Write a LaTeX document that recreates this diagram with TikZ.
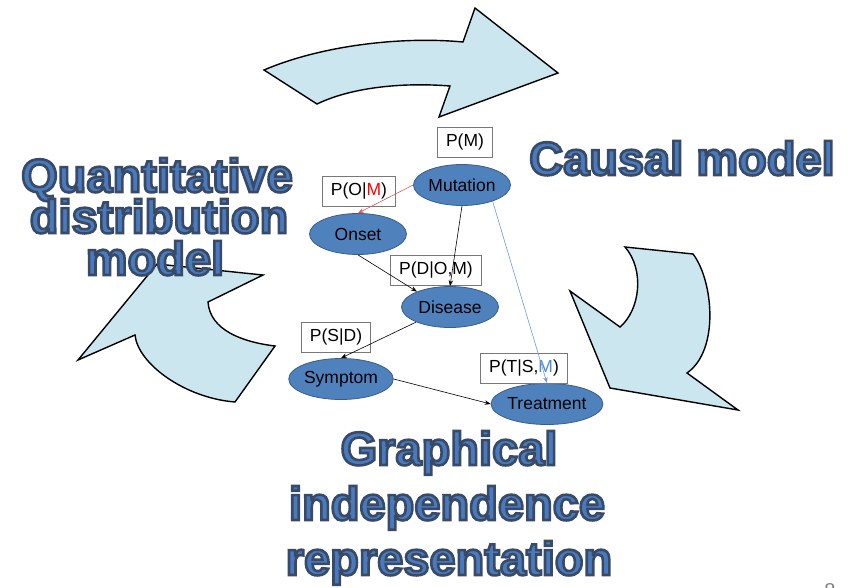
\documentclass[tikz,border=0pt]{standalone}
\usepackage{fontspec}
\setmainfont{Liberation Sans}
\usetikzlibrary{shapes.geometric,arrows.meta}
\definecolor{nodeblue}{RGB}{79,129,189}
\definecolor{nodeedge}{RGB}{56,93,138}
\definecolor{arrowfill}{RGB}{203,230,238}
\definecolor{titleblue}{RGB}{74,122,190}
\definecolor{redarrow}{RGB}{222,90,90}
\definecolor{bluearrow}{RGB}{110,155,212}
\definecolor{boxgray}{RGB}{120,120,120}
\definecolor{mblue}{RGB}{80,140,210}
\tikzset{
  bigarrow/.style={fill=arrowfill, draw=black, line width=1.4pt, line join=miter},
  var/.style={ellipse, fill=nodeblue, draw=nodeedge, line width=0.8pt, minimum width=97pt, minimum height=41pt, inner sep=0pt, font=\fontsize{17.5}{19}\selectfont, text=black},
  cpt/.style={draw=boxgray, line width=0.9pt, inner xsep=8.5pt, inner ysep=0pt, minimum height=30pt, font=\fontsize{17.5}{19}\selectfont, text=black},
  title/.style={anchor=base, text=titleblue, inner sep=0pt, font=\fontsize{47}{47}\selectfont\bfseries},
  edge/.style={line width=0.6pt, -{Stealth[length=6pt,width=4.5pt]}}
}
\newcommand{\ttl}[1]{\special{pdf:literal 2 Tr 2.6 w 0.22 0.29 0.40 RG}#1\special{pdf:literal 0 Tr}}
\begin{document}
\begin{tikzpicture}[x=1pt,y=-1pt]
\useasboundingbox (0,0) rectangle (852,587);
\fill[white] (0,0) rectangle (852,587);
% big cyclic arrows
\draw[bigarrow] (264,70) .. controls (320,46) and (400,36) .. (463,42) -- (475,8) -- (558,73) -- (439,117) -- (450,86) .. controls (400,82) and (350,88) .. (317,104) -- cycle;
\draw[bigarrow] (625,247) -- (693,254) .. controls (713,280) and (720,350) .. (687,373) -- (738,410) -- (610,388) -- (570,291) -- (620,327) .. controls (640,310) and (645,270) .. (625,247) -- cycle;
\draw[bigarrow] (157,264) -- (78,360) -- (135,335) .. controls (138,364) and (185,398) .. (235,402) -- (275,346) .. controls (242,342) and (210,330) .. (208,302) -- (263,275) -- cycle;
% titles
\node[title] (q1) at (157,192) {\ttl{Quantitative}};
\node[title] (q2) at (159,233) {\ttl{distribution}};
\node[title] (q3) at (155,275) {\ttl{model}};
\node[title] (c1) at (682,175) {\ttl{Causal model}};
\node[title] (g1) at (449,465) {\ttl{Graphical}};
\node[title] (g2) at (447,520) {\ttl{independence}};
\node[title] (g3) at (449,575) {\ttl{representation}};
% network
\node[var] (mut) at (462,185) {Mutation};
\node[var] (ons) at (358,234) {Onset};
\node[var] (dis) at (450,307) {Disease};
\node[var] (sym) at (341,379) {Symptom};
\node[var] (trt) at (547,404) {Treatment};
\node[cpt] (pm) at (465,142) {P(M)};
\node[cpt] (po) at (359,191) {P(O|\textcolor{red}{M})};
\node[cpt] (pd) at (436,270) {P(D|O,M)};
\node[cpt] (ps) at (336,337) {P(S|D)};
\node[cpt] (pt) at (524,368) {P(T|S,\textcolor{mblue}{M})};
\draw[edge, draw=redarrow] (mut.west) -- (ons.north);
\draw[edge] (mut.south) -- (dis.north);
\draw[edge] (ons.south) -- (dis.155);
\draw[edge] (dis.204) -- (sym.north);
\draw[edge] (sym.east) -- (trt.west);
\draw[edge, draw=bluearrow] (mut.-28) -- (trt.north);
% page number (cut off)
\node[anchor=base, text=gray, font=\fontsize{20}{20}\selectfont, inner sep=0pt] (pg) at (830,597) {8};
\end{tikzpicture}
\end{document}
